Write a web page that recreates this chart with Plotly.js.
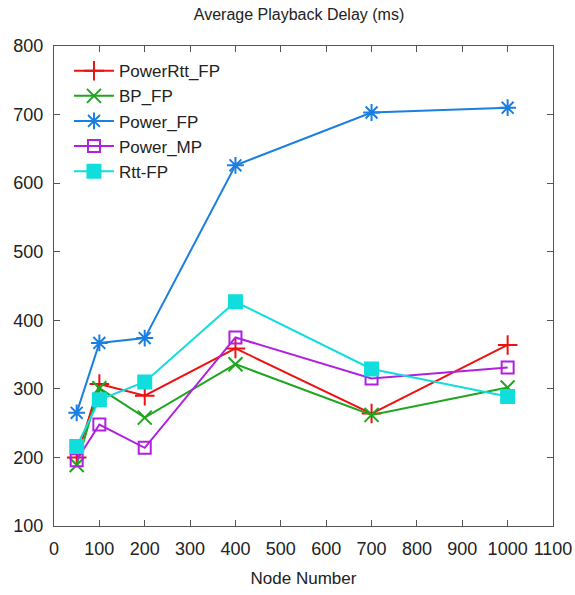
<!DOCTYPE html>
<html>
<head>
<meta charset="utf-8">
<script src="https://cdn.plot.ly/plotly-3.0.1.min.js"></script>
<style>html,body{margin:0;padding:0;background:#fff}#chart{width:575px;height:595px}</style>
</head>
<body>
<div id="chart"></div>
<script>
const nodes = [50, 100, 200, 400, 700, 1000];
const powerRttFP = [200, 307, 290, 359, 264, 364];
const bpFP = [189, 301, 258, 336, 262, 302];
const powerFP = [265, 367, 374, 626, 703, 710];
const powerMP = [196, 248, 214, 375, 315, 331];
const rttFP = [216, 284, 310, 427, 329, 289];
const seriesNames = ['PowerRtt_FP', 'BP_FP', 'Power_FP', 'Power_MP', 'Rtt-FP'];
const xTicks = [0, 100, 200, 300, 400, 500, 600, 700, 800, 900, 1000, 1100];
const yTicks = [100, 200, 300, 400, 500, 600, 700, 800];

const styles = [
  {color: '#ee1111', symbol: 'cross-thin-open', size: 14},
  {color: '#1fa51f', symbol: 'x-thin-open', size: 14},
  {color: '#1a7fe0', symbol: 'asterisk-open', size: 14},
  {color: '#b020e0', symbol: 'square-open', size: 12},
  {color: '#11dddd', symbol: 'square', size: 13}
];
const values = [powerRttFP, bpFP, powerFP, powerMP, rttFP];

const traces = values.map((v, i) => ({
  x: nodes, y: v, name: seriesNames[i], type: 'scatter', mode: 'lines+markers',
  line: {color: styles[i].color, width: 2},
  marker: {color: styles[i].color, symbol: styles[i].symbol, size: styles[i].size,
           line: {color: styles[i].color, width: 2}}
}));

const fam = 'Liberation Sans, Arial, sans-serif';
const axisCommon = {
  showgrid: false, zeroline: false, showline: true, linecolor: '#555', linewidth: 1,
  mirror: 'ticks', ticks: 'inside', ticklen: 6, tickcolor: '#555',
  tickfont: {family: fam, size: 18, color: '#222'}
};

const layout = {
  width: 575, height: 595,
  margin: {l: 54, r: 22, t: 46, b: 69},
  paper_bgcolor: '#fff', plot_bgcolor: '#fff',
  title: {text: 'Average Playback Delay (ms)', x: 0.52, xanchor: 'center', y: 0.985, yanchor: 'top',
          font: {family: fam, size: 16, color: '#222'}},
  xaxis: Object.assign({}, axisCommon, {range: [0, 1100], tickvals: xTicks, ticklabelstandoff: 6,
    title: {text: 'Node Number', standoff: 14, font: {family: fam, size: 17, color: '#222'}}}),
  yaxis: Object.assign({}, axisCommon, {range: [100, 800], tickvals: yTicks, ticklabelstandoff: 6}),
  showlegend: true,
  legend: {x: 0.03, y: 0.985, xanchor: 'left', yanchor: 'top', bgcolor: 'rgba(255,255,255,0)',
           font: {family: fam, size: 17, color: '#222'},
           tracegroupgap: 0, itemwidth: 40}
};

Plotly.newPlot('chart', traces, layout, {displayModeBar: false});
</script>
</body>
</html>
